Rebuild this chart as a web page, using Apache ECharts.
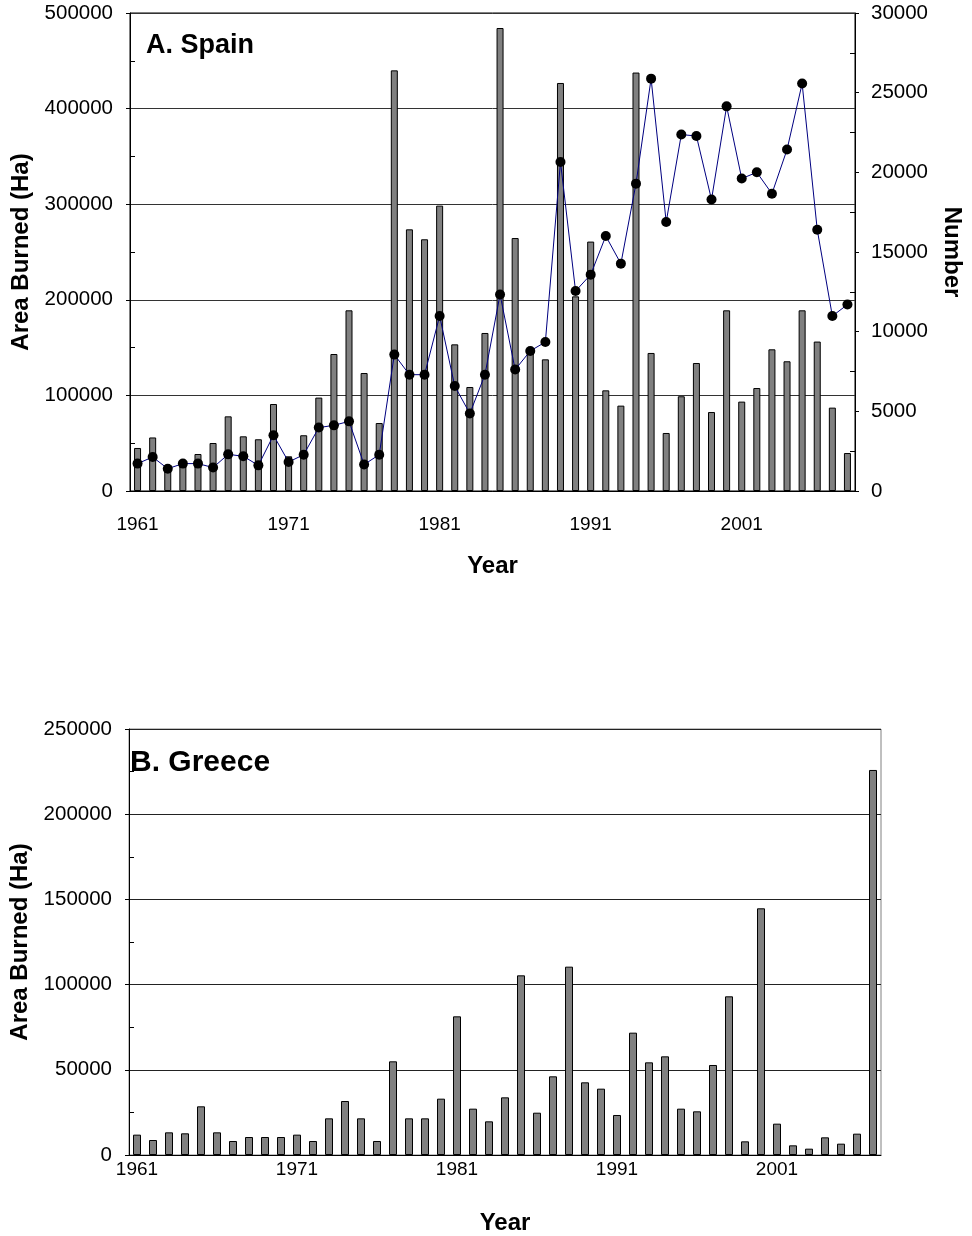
<!DOCTYPE html>
<html>
<head>
<meta charset="utf-8">
<script src="https://cdn.jsdelivr.net/npm/echarts@6/dist/echarts.min.js"></script>
<style>
  html, body { margin: 0; padding: 0; background: #fff; }
  #chart { width: 972px; height: 1236px; }
</style>
</head>
<body>
<div id="chart"></div>
<script>
  // categories
  var spainYears = [];
  for (var y = 1961; y <= 2008; y++) spainYears.push(String(y));
  var greeceYears = spainYears.slice(0, 47); // 1961-2007

  // A. Spain - area burned (Ha), left axis
  var spainArea = [
    45000, 56000, 27000, 28000, 38700, 50200, 78100, 57200, 54100, 91000,
    36300, 58300, 97700, 143300, 189000, 123400, 71100, 440000, 273700, 263300,
    298500, 153400, 108800, 165300, 484300, 264600, 146000, 137700, 426800, 203600,
    260900, 105300, 89300, 437700, 144400, 60700, 99100, 133900, 82600, 189000,
    93500, 107700, 148200, 135700, 189000, 156300, 87200, 39700
  ];

  // A. Spain - number of fires, right axis
  var spainNumber = [
    1720, 2130, 1400, 1720, 1720, 1470, 2300, 2180, 1610, 3500,
    1820, 2280, 3980, 4120, 4370, 1660, 2280, 8560, 7300, 7300,
    10980, 6590, 4860, 7300, 12330, 7620, 8790, 9350, 20650, 12550,
    13580, 16000, 14270, 19290, 25880, 16880, 22370, 22280, 18290, 24140,
    19610, 20000, 18660, 21430, 25570, 16400, 10980, 11700
  ];

  // B. Greece - area burned (Ha)
  var greeceArea = [
    11940, 8800, 13300, 12720, 28570, 13300, 8220, 10560, 10560, 10560,
    11940, 8220, 21520, 31690, 21520, 8220, 54980, 21520, 21520, 33060,
    81380, 27190, 19760, 33840, 105440, 24830, 46170, 110530, 42650, 38930,
    23480, 71790, 54380, 57900, 27190, 25630, 52820, 93120, 8020, 144770,
    18390, 5670, 3720, 10370, 6650, 12520, 225960
  ];

  var font = "'Liberation Sans', Arial, sans-serif";
  var plain = function (v) { return String(v); };
  var xLabelStyle = { color: '#000', fontSize: 19, fontFamily: font };
  var yLabelStyle = { color: '#000', fontSize: 20.5, fontFamily: font };
  var nameStyle = { color: '#000', fontSize: 24, fontWeight: 'bold', fontFamily: font };
  var blackLine = { lineStyle: { color: '#000', width: 1 } };

  var myChart = echarts.init(document.getElementById('chart'), null, { renderer: 'canvas' });

  var option = {
    backgroundColor: '#fff',
    animation: false,
    textStyle: { fontFamily: font },
    title: [
      { text: 'A. Spain', left: 146, top: 32, padding: 0, textStyle: { fontSize: 27, fontWeight: 'bold', color: '#000', fontFamily: font } },
      { text: 'B. Greece', left: 130, top: 748, padding: 0, textStyle: { fontSize: 30, fontWeight: 'bold', color: '#000', fontFamily: font } }
    ],
    grid: [
      { left: 130, top: 13, width: 729, height: 478, show: true, borderColor: '#000', borderWidth: 1 },
      { left: 129, top: 729, width: 752, height: 426, show: true, borderColor: '#808080', borderWidth: 1 }
    ],
    xAxis: [
      {
        type: 'category', gridIndex: 0, data: spainYears,
        axisLine: blackLine,
        axisTick: { interval: 4, length: 5, lineStyle: { color: '#000' } },
        axisLabel: Object.assign({ interval: 9, margin: 24 }, xLabelStyle),
        name: 'Year', nameLocation: 'middle', nameGap: 63, nameTextStyle: nameStyle
      },
      {
        type: 'category', gridIndex: 1, data: greeceYears,
        axisLine: blackLine,
        axisTick: { interval: 4, length: 5, lineStyle: { color: '#000' } },
        axisLabel: Object.assign({ interval: 9, margin: 5 }, xLabelStyle),
        name: 'Year', nameLocation: 'middle', nameGap: 56, nameTextStyle: nameStyle
      }
    ],
    yAxis: [
      {
        type: 'value', gridIndex: 0, min: 0, max: 500000, interval: 100000,
        axisLine: { show: true, lineStyle: { color: '#000' } },
        axisTick: { show: true, length: 4, lineStyle: { color: '#000' } },
        minorTick: { show: true, splitNumber: 2, length: -5, lineStyle: { color: '#000' } },
        splitLine: { lineStyle: { color: '#333', width: 1 } },
        axisLabel: Object.assign({ margin: 17, formatter: plain }, yLabelStyle),
        name: 'Area Burned (Ha)', nameLocation: 'middle', nameGap: 97, nameTextStyle: nameStyle
      },
      {
        type: 'value', gridIndex: 0, position: 'right', min: 0, max: 30000, interval: 5000,
        axisLine: { show: true, lineStyle: { color: '#000' } },
        axisTick: { show: true, length: 4, lineStyle: { color: '#000' } },
        minorTick: { show: true, splitNumber: 2, length: -5, lineStyle: { color: '#000' } },
        splitLine: { show: false },
        axisLabel: Object.assign({ margin: 16, formatter: plain }, yLabelStyle),
        name: 'Number', nameLocation: 'middle', nameRotate: -90, nameGap: 85, nameTextStyle: nameStyle
      },
      {
        type: 'value', gridIndex: 1, min: 0, max: 250000, interval: 50000,
        axisLine: { show: true, lineStyle: { color: '#000' } },
        axisTick: { show: true, length: 4, lineStyle: { color: '#000' } },
        minorTick: { show: true, splitNumber: 2, length: -5, lineStyle: { color: '#000' } },
        splitLine: { lineStyle: { color: '#222', width: 1 } },
        axisLabel: Object.assign({ margin: 17, formatter: plain }, yLabelStyle),
        name: 'Area Burned (Ha)', nameLocation: 'middle', nameGap: 97, nameTextStyle: nameStyle
      }
    ],
    series: [
      {
        name: 'Spain area', type: 'bar', xAxisIndex: 0, yAxisIndex: 0,
        data: spainArea, barWidth: 7,
        itemStyle: { color: '#808080', borderColor: '#000', borderWidth: 1 }
      },
      {
        name: 'Spain number', type: 'line', xAxisIndex: 0, yAxisIndex: 1,
        data: spainNumber, symbol: 'circle', symbolSize: 10,
        lineStyle: { color: '#000080', width: 1 },
        itemStyle: { color: '#000' }
      },
      {
        name: 'Greece area', type: 'bar', xAxisIndex: 1, yAxisIndex: 2,
        data: greeceArea, barWidth: 8,
        itemStyle: { color: '#808080', borderColor: '#000', borderWidth: 1 }
      }
    ]
  };

  myChart.setOption(option);
  window.addEventListener('resize', () => myChart.resize());
</script>
</body>
</html>
